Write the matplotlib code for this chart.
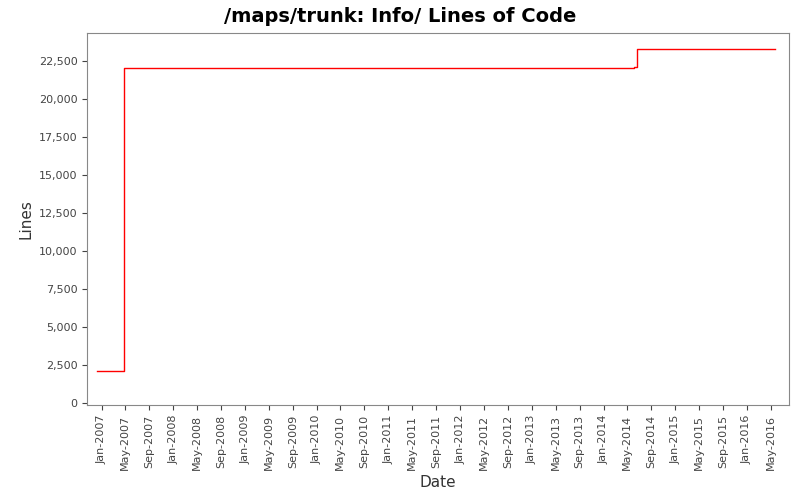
import matplotlib
matplotlib.use("Agg")
import matplotlib.pyplot as plt
import matplotlib.dates as mdates
import matplotlib.ticker as mticker
import pandas as pd

# commit dates and line counts
dates = pd.to_datetime(["2006-12-10", "2007-04-26", "2014-06-05", "2014-06-20", "2016-05-25"])
lines = [2160, 22050, 22120, 23290, 23290]

fig = plt.figure(figsize=(8, 5), dpi=100)
ax = fig.add_axes([0.109, 0.19, 0.877, 0.744])
ax.step(dates, lines, where="post", color="red", linewidth=1)

ax.set_xlim(pd.Timestamp("2006-10-20"), pd.Timestamp("2016-08-01"))
ax.set_ylim(-100, 24350)
ax.yaxis.set_major_locator(mticker.MultipleLocator(2500))
ax.yaxis.set_major_formatter(mticker.FuncFormatter(lambda v, p: f"{int(v):,}"))
ax.xaxis.set_major_locator(mdates.MonthLocator(bymonth=[1, 5, 9]))
ax.xaxis.set_major_formatter(mdates.DateFormatter("%b-%Y"))
plt.setp(ax.get_xticklabels(), rotation=90)
ax.tick_params(labelsize=8, colors="#444444")
for s in ax.spines.values():
    s.set_color("#888888")

ax.set_xlabel("Date", fontsize=11, color="#333333")
ax.set_ylabel("Lines", fontsize=11, color="#333333")
fig.suptitle("/maps/trunk: Info/ Lines of Code", fontsize=14, fontweight="bold", y=0.985)

fig.savefig("out.png")
